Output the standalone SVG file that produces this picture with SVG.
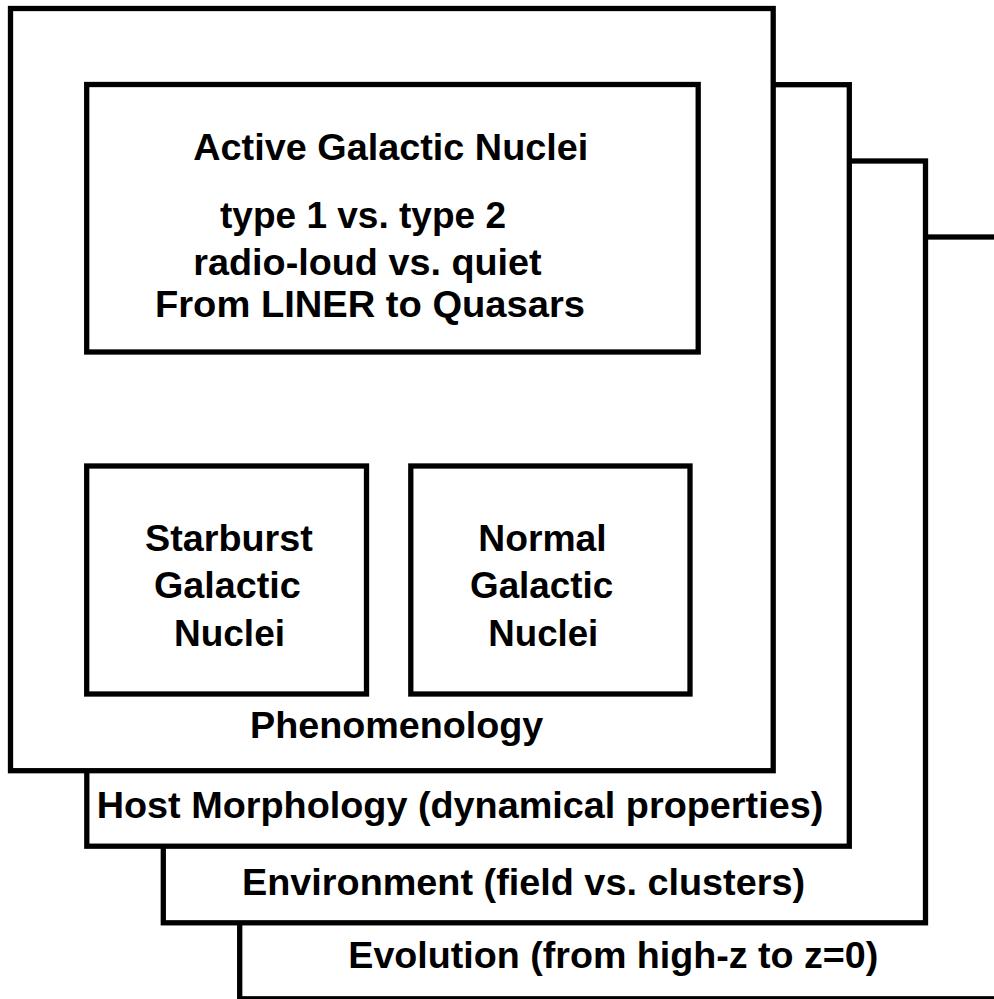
<svg xmlns="http://www.w3.org/2000/svg" width="994" height="999" viewBox="0 0 994 999">
<style>
.panel{fill:#fff;stroke:#000;stroke-width:5.3}
.box{fill:#fff;stroke:#000;stroke-width:5.3}
text{font-family:"Liberation Sans",Arial,Helvetica,sans-serif;font-weight:bold;font-size:37px;fill:#000}
</style>
<g id="evolution">
<rect class="panel" x="239.7" y="237" width="762.6" height="761.8"/>
<text x="348.3" y="968.3" textLength="530" lengthAdjust="spacingAndGlyphs">Evolution (from high-z to z=0)</text>
</g>
<g id="environment">
<rect class="panel" x="163.3" y="161" width="762.2" height="761.8"/>
<text x="242" y="895" textLength="563" lengthAdjust="spacingAndGlyphs">Environment (field vs. clusters)</text>
</g>
<g id="host-morphology">
<rect class="panel" x="86.8" y="84.7" width="762.5" height="761.5"/>
<text x="96.7" y="818.3" textLength="726.6" lengthAdjust="spacingAndGlyphs">Host Morphology (dynamical properties)</text>
</g>
<g id="phenomenology">
<rect class="panel" x="10.5" y="8.5" width="762.7" height="762.2"/>
<text x="250" y="738.3" textLength="293.3" lengthAdjust="spacingAndGlyphs">Phenomenology</text>
</g>
<g id="agn">
<rect class="box" x="86.7" y="84.5" width="611.5" height="267.5"/>
<text x="193.3" y="159.5" textLength="395" lengthAdjust="spacingAndGlyphs">Active Galactic Nuclei</text>
<text x="220" y="228" textLength="286" lengthAdjust="spacingAndGlyphs">type 1 vs. type 2</text>
<text x="193.3" y="275" textLength="348.4" lengthAdjust="spacingAndGlyphs">radio-loud vs. quiet</text>
<text x="155" y="316.5" textLength="430" lengthAdjust="spacingAndGlyphs">From LINER to Quasars</text>
</g>
<g id="starburst">
<rect class="box" x="86.7" y="466" width="279.8" height="228"/>
<text x="145" y="550.7" textLength="167.7" lengthAdjust="spacingAndGlyphs">Starburst</text>
<text x="154" y="598.3" textLength="146.7" lengthAdjust="spacingAndGlyphs">Galactic</text>
<text x="174" y="646" textLength="111" lengthAdjust="spacingAndGlyphs">Nuclei</text>
</g>
<g id="normal">
<rect class="box" x="410.8" y="466" width="279.2" height="228"/>
<text x="478.3" y="550.7" textLength="128.4" lengthAdjust="spacingAndGlyphs">Normal</text>
<text x="470" y="598.3" textLength="143.3" lengthAdjust="spacingAndGlyphs">Galactic</text>
<text x="488.3" y="646" textLength="110" lengthAdjust="spacingAndGlyphs">Nuclei</text>
</g>
<g id="connectors"/>
</svg>
